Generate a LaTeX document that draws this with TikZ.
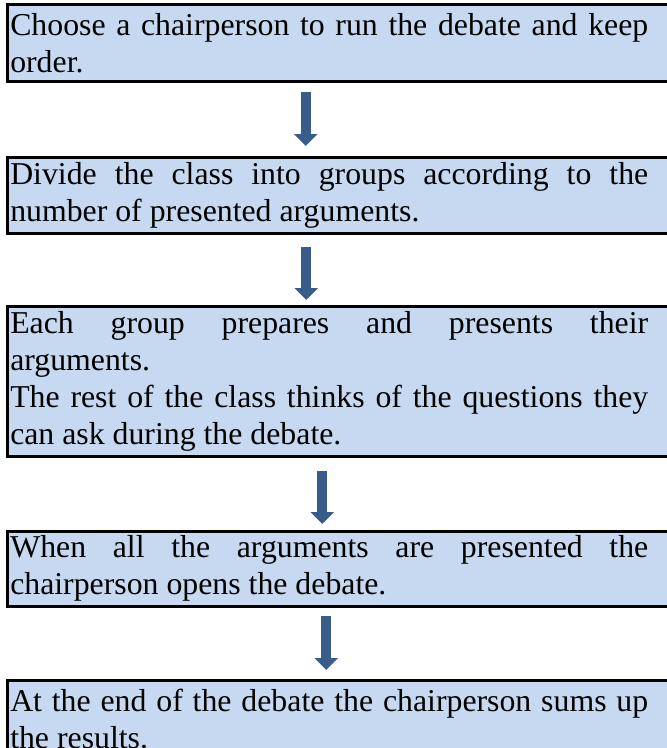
\documentclass[tikz,border=0pt]{standalone}
\usepackage{fontspec}
\setmainfont{Liberation Serif}
\usetikzlibrary{arrows.meta}
\definecolor{boxblue}{HTML}{C6D9F1}
\definecolor{arrowblue}{HTML}{385D8A}
\hyphenpenalty=10000
\exhyphenpenalty=10000
\begin{document}
\begin{tikzpicture}[
    stepbox/.style={draw, line width=2.5pt, fill=boxblue, anchor=north west,
        inner xsep=3pt, inner ysep=3pt, minimum height=77pt,
        font=\fontsize{31.8}{37}\selectfont},
    flow/.style={arrowblue, line width=10pt, -{Triangle[width=23pt, length=12pt]}}
  ]
    \useasboundingbox (0pt,0pt) rectangle (667pt,-748pt);

    \node[stepbox] (chair) at (6pt,-3pt) {\parbox{638pt}{%
        Choose a chairperson to run the debate and keep order.}\hspace*{22pt}};

    \node[stepbox, minimum height=76pt] (groups) at (6pt,-156pt) {\parbox{638pt}{%
        Divide the class into groups according to the number of presented arguments.}\hspace*{22pt}};

    \node[stepbox, minimum height=150pt] (present) at (6pt,-305pt) {\parbox{638pt}{%
        Each group prepares and presents their\linebreak arguments.\\
        The rest of the class thinks of the questions they can ask during the debate.}\hspace*{22pt}};

    \node[stepbox, minimum height=75pt] (opens) at (6pt,-530pt) {\parbox{638pt}{%
        When all the arguments are presented the chairperson opens the debate.}\hspace*{22pt}};

    \node[stepbox] (sumup) at (6pt,-679pt) {\parbox{638pt}{%
        At the end of the debate the chairperson sums up the results.}\hspace*{22pt}};

    \draw[flow, shorten <=9pt, shorten >=10pt] ([xshift=-34.5pt]chair.south) -- ([xshift=-34.5pt]groups.north);
    \draw[flow, shorten <=12pt, shorten >=5pt] ([xshift=-34pt]groups.south) -- ([xshift=-34pt]present.north);
    \draw[flow, shorten <=13pt, shorten >=6pt] ([xshift=-18pt]present.south) -- ([xshift=-18pt]opens.north);
    \draw[flow, shorten <=8pt, shorten >=9pt] ([xshift=-14pt]opens.south) -- ([xshift=-14pt]sumup.north);
\end{tikzpicture}
\end{document}
